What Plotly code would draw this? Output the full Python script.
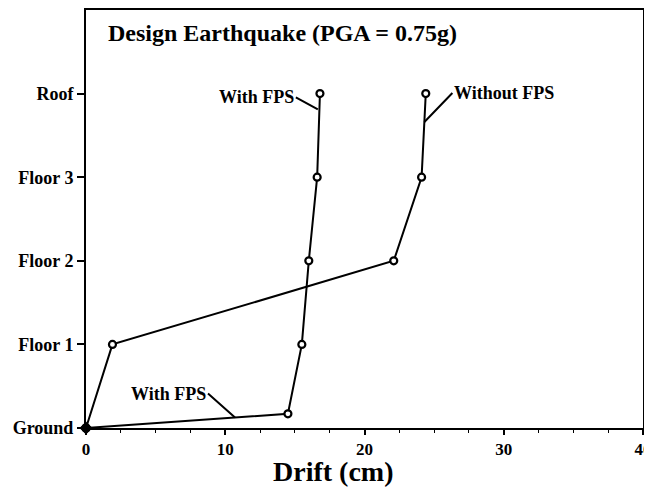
import plotly.graph_objects as go

# ---- data ----
level_names = ["Ground", "Floor 1", "Floor 2", "Floor 3", "Roof"]
level_vals = [0, 1, 2, 3, 4]

without_drift = [0, 1.9, 22.1, 24.1, 24.4]
without_level = [0, 1, 2, 3, 4]

with_drift = [0, 14.5, 15.5, 16.0, 16.6, 16.8]
with_level = [0, 0.17, 1, 2, 3, 4]

x_ticks = [0, 10, 20, 30, 40]

FONT = "Liberation Serif"
BLACK = "black"

fig = go.Figure()

marker = dict(symbol="circle", size=7, color="white", line=dict(color=BLACK, width=2.2))

fig.add_trace(go.Scatter(x=without_drift, y=without_level, mode="lines+markers",
                         line=dict(color=BLACK, width=2), marker=marker,
                         cliponaxis=False, showlegend=False))
fig.add_trace(go.Scatter(x=with_drift, y=with_level, mode="lines+markers",
                         line=dict(color=BLACK, width=2), marker=marker,
                         cliponaxis=False, showlegend=False))
# ground point drawn solid
fig.add_trace(go.Scatter(x=[without_drift[0]], y=[without_level[0]], mode="markers",
                         marker=dict(symbol="diamond", size=10, color=BLACK),
                         cliponaxis=False, showlegend=False))

# the page body has an 8px default margin, so the figure is sized/offset to compensate
fig.update_layout(
    width=644, height=479,
    margin=dict(l=78, r=9, t=2, b=59),
    paper_bgcolor="white", plot_bgcolor="white",
    font=dict(family=FONT, color=BLACK, size=17, weight="bold"),
    xaxis=dict(
        range=[0, 40], tickvals=x_ticks, ticktext=[str(v) for v in x_ticks],
        showgrid=False, zeroline=False, automargin=False,
        showline=True, linecolor=BLACK, linewidth=2, mirror=True,
        ticks="outside", ticklen=5, tickwidth=1.5, tickcolor=BLACK,
        minor=dict(dtick=2.5, ticks="outside", ticklen=3, tickwidth=1.2, tickcolor=BLACK),
        tickfont=dict(family=FONT, size=17, weight="bold"),
    ),
    yaxis=dict(
        range=[0, 5.0], tickvals=level_vals, ticktext=level_names,
        showgrid=False, zeroline=False, automargin=False,
        showline=True, linecolor=BLACK, linewidth=2, mirror=True,
        ticks="outside", ticklen=7, tickwidth=1.5, tickcolor=BLACK,
        tickfont=dict(family=FONT, size=18, weight="bold"),
    ),
)

# Axis title
fig.add_annotation(xref="paper", yref="paper", x=0.443, y=-0.105, xanchor="center", yanchor="middle",
                   text="Drift (cm)", showarrow=False,
                   font=dict(family=FONT, size=28, weight="bold"))

# Title inside plot
fig.add_annotation(xref="paper", yref="paper", x=0.036, y=0.945, xanchor="left", yanchor="middle",
                   text="Design Earthquake (PGA = 0.75g)", showarrow=False,
                   font=dict(family=FONT, size=24, weight="bold"))

# Labels with leader lines
fig.add_annotation(x=16.65, y=3.81, xref="x", yref="y",
                   ax=-22, ay=-12, text="With FPS", showarrow=True, arrowhead=0,
                   arrowwidth=2, arrowcolor=BLACK, xanchor="right",
                   font=dict(family=FONT, size=18, weight="bold"))
fig.add_annotation(x=24.3, y=3.66, xref="x", yref="y",
                   ax=28, ay=-29, text="Without FPS", showarrow=True, arrowhead=0,
                   arrowwidth=2, arrowcolor=BLACK, xanchor="left",
                   font=dict(family=FONT, size=18, weight="bold"))
fig.add_annotation(x=10.7, y=0.125, xref="x", yref="y",
                   ax=-27, ay=-24, text="With FPS", showarrow=True, arrowhead=0,
                   arrowwidth=2, arrowcolor=BLACK, xanchor="right",
                   font=dict(family=FONT, size=18, weight="bold"))

fig.write_html("out.html")
